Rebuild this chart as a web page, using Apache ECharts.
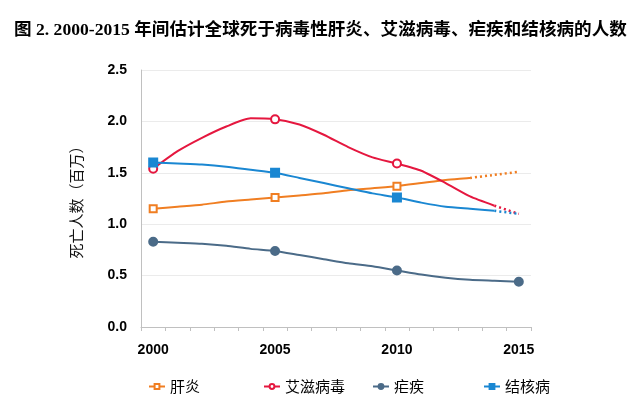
<!DOCTYPE html>
<html><head><meta charset="utf-8">
<script src="https://cdn.jsdelivr.net/npm/echarts@6/dist/echarts.min.js"></script>
<style>html,body{margin:0;padding:0;background:#fff}#c{width:639px;height:405px}</style>
</head><body><div id="c"></div>
<script>
const titleText = '图 2. 2000-2015 年间估计全球死于病毒性肝炎、艾滋病毒、疟疾和结核病的人数';
const yAxisName = '死亡人数（百万）';
const years = ['2000','2001','2002','2003','2004','2005','2006','2007','2008','2009','2010','2011','2012','2013','2014','2015'];
const seriesNames = ['肝炎','艾滋病毒','疟疾','结核病'];
const hepatitis = [1.15,1.17,1.19,1.22,1.24,1.26,1.28,1.30,1.33,1.35,1.37,1.40,1.43,1.45,1.48,1.51];
const hiv = [1.54,1.71,1.84,1.95,2.03,2.02,1.97,1.87,1.75,1.65,1.59,1.52,1.40,1.27,1.18,1.10];
const malaria = [0.83,0.82,0.81,0.79,0.76,0.74,0.70,0.66,0.62,0.59,0.55,0.51,0.48,0.46,0.45,0.44];
const tb = [1.60,1.59,1.58,1.56,1.53,1.50,1.45,1.40,1.35,1.30,1.26,1.21,1.17,1.15,1.13,1.10];
const markedIdx = [[0,5,10],[0,5,10],[0,5,10,15],[0,5,10]];
const solidEnd = [13,14,15,14];
const yTicks = [0,0.5,1.0,1.5,2.0,2.5];

const values = [hepatitis, hiv, malaria, tb];
const colors = ['#F07E22','#E5173F','#4B6B88','#1A87D2'];
const symbols = ['emptyRect','emptyCircle','circle','rect'];
const symSizes = [7,8,8,8];
const legendLeft = [143,258,367,478];

const series = [];
values.forEach((vals, s) => {
  const solid = vals.map((v, i) => {
    if (i > solidEnd[s]) return null;
    return markedIdx[s].includes(i) ? {value: v} : {value: v, symbol: 'none'};
  });
  series.push({
    name: seriesNames[s], type: 'line', data: solid, smooth: 0.2,
    symbol: symbols[s], symbolSize: symSizes[s], showAllSymbol: true,
    itemStyle: {color: colors[s], borderWidth: 2, borderColor: colors[s]},
    lineStyle: {color: colors[s], width: 2},
    emphasis: {disabled: true}, z: 3 + s
  });
  if (solidEnd[s] < vals.length - 1) {
    series.push({
      name: seriesNames[s] + '_d', type: 'line',
      data: vals.map((v, i) => i >= solidEnd[s] ? v : null),
      symbol: 'none', smooth: 0.2,
      lineStyle: {color: colors[s], width: 2.5, type: [2, 3]},
      emphasis: {disabled: true}, z: 2
    });
  }
});

const chart = echarts.init(document.getElementById('c'));
chart.setOption({
  animation: false,
  title: {text: titleText, left: 9, top: 17,
    textStyle: {fontSize: 17.6, fontWeight: 'bold', color: '#000', fontFamily: '"Liberation Serif","Noto Sans CJK SC",serif'}},
  legend: seriesNames.map((n, i) => ({
    data: [n], left: legendLeft[i], top: 374, itemWidth: 16, itemHeight: 6,
    textStyle: {fontSize: 15, color: '#000', fontFamily: '"Noto Sans CJK SC",sans-serif'},
    selectedMode: false
  })),
  grid: {left: 141, right: 108, top: 70, bottom: 78},
  xAxis: {
    type: 'category', data: years, boundaryGap: true,
    axisLine: {lineStyle: {color: '#C0C0C0', width: 1}},
    axisTick: {show: true, interval: 0, length: 4, lineStyle: {color: '#C0C0C0'}},
    axisLabel: {interval: 4, margin: 16, fontSize: 14, fontWeight: 'bold', color: '#000', fontFamily: '"Liberation Sans",Arial,sans-serif'},
    splitLine: {show: false}
  },
  yAxis: {
    type: 'value', min: yTicks[0], max: yTicks[yTicks.length-1], interval: 0.5,
    name: yAxisName, nameLocation: 'middle', nameGap: 57, nameRotate: 90,
    nameTextStyle: {fontSize: 15, color: '#111', fontFamily: '"Noto Sans CJK SC",sans-serif'},
    axisLine: {show: true, lineStyle: {color: '#C0C0C0', width: 1}},
    axisTick: {show: false},
    axisLabel: {margin: 14, fontSize: 14, fontWeight: 'bold', color: '#000', fontFamily: '"Liberation Sans",Arial,sans-serif',
      formatter: v => v.toFixed(1)},
    splitLine: {lineStyle: {color: '#EBEBEB', width: 1}}
  },
  series: series
});
</script></body></html>
